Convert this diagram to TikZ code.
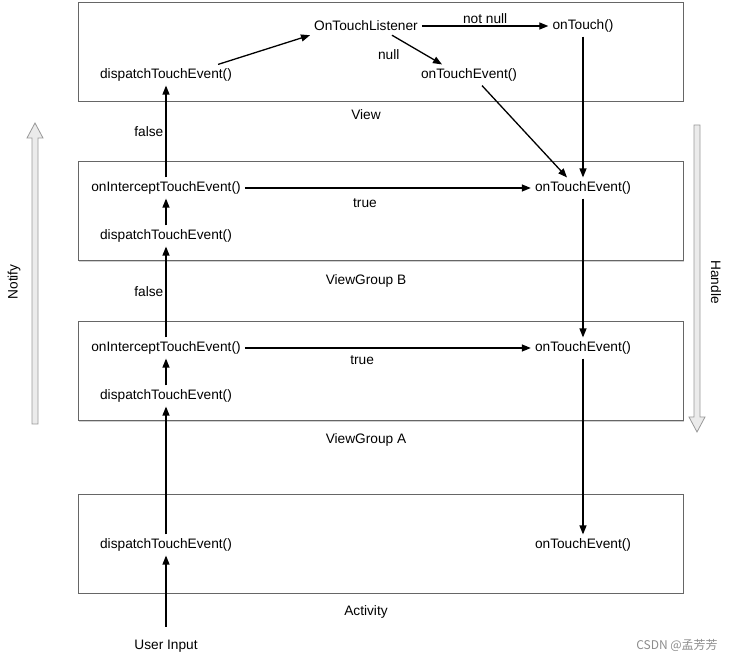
\documentclass[tikz,border=0pt]{standalone}
\usepackage{fontspec}
\setmainfont{Liberation Sans}
\newfontfamily\cjk{Noto Sans CJK SC}
\usetikzlibrary{positioning, arrows.meta, shadows}

\begin{document}
\begin{tikzpicture}[
  x=1pt, y=-1pt,
  font=\fontsize{13.7}{16}\selectfont,
  layer/.style={draw=black!60, line width=0.9pt, fill=white,
                minimum width=605pt, minimum height=99pt,
                drop shadow={shadow xshift=1.2pt, shadow yshift=-1.2pt,
                             opacity=0.3, fill=black!60}},
  fn/.style={inner sep=4pt},
  link/.style={-{Triangle[length=9pt, width=7pt]}, line width=1.3pt},
  cond/.style={inner sep=2pt},
  bigarrow/.style={draw=black!40, fill=black!8, line width=0.8pt},
]
\useasboundingbox (0,0) rectangle (732,660);

\node[layer] (view) at (380.5,51.5) {};
\node[layer] (vgb) at (380.5,211) {};
\node[layer] (vga) at (380.5,371) {};
\node[layer] (act) at (380.5,543.5) {};

\node at (366,115) (viewlbl) {View};
\node at (366,281) (vgblbl) {ViewGroup B};
\node at (366,440) (vgalbl) {ViewGroup A};
\node at (366,612) (actlbl) {Activity};

\node[fn] (vd) at (166,75) {dispatchTouchEvent()};
\node[fn] (otl) at (366,26) {OnTouchListener};
\node[fn] (ot) at (583,26) {onTouch()};
\node[fn] (vte) at (469,75) {onTouchEvent()};

\node[fn] (vgbi) at (166,188) {onInterceptTouchEvent()};
\node[fn] (vgbd) at (166,236) {dispatchTouchEvent()};
\node[fn] (vgbte) at (583,188) {onTouchEvent()};

\node[fn] (vgai) at (166,348) {onInterceptTouchEvent()};
\node[fn] (vgad) at (166,396) {dispatchTouchEvent()};
\node[fn] (vgate) at (583,348) {onTouchEvent()};

\node[fn] (actd) at (166,545) {dispatchTouchEvent()};
\node[fn] (actte) at (583,545) {onTouchEvent()};

\node[fn] (input) at (166,646) {User Input};

\draw[link, shorten <=9pt] (input) -- (actd);
\draw[link] (actd) -- (vgad);
\draw[link] (vgad) -- (vgai);
\draw[link] (vgai) -- node[midway, left, cond] {false} (vgbd);
\draw[link] (vgbd) -- (vgbi);
\draw[link] (vgbi) -- node[midway, left, cond] {false} (vd);
\draw[link] ([xshift=-18pt]vd.north east) -- (otl.south west);
\draw[link] (otl) -- node[midway, above, cond] {not null} (ot);
\draw[link] ([xshift=26pt]otl.south) -- node[pos=0.4, below left=0pt and 10pt, cond] {null} ([xshift=-27pt]vte.north);
\draw[link] ([xshift=13pt]vte.south) -- ([xshift=-16pt]vgbte.north);
\draw[link] (ot) -- (vgbte);
\draw[link] (vgbi) -- node[pos=0.42, below=8pt, cond] {true} (vgbte);
\draw[link] (vgbte) -- (vgate);
\draw[link] (vgai) -- node[pos=0.41, below=5pt, cond] {true} (vgate);
\draw[link] (vgate) -- (actte);

\draw[bigarrow] (32,424) -- (32,138) -- (27,138) -- (35,123) -- (43,138)
  -- (38,138) -- (38,424) -- cycle;
\draw[bigarrow] (694,125) -- (694,417) -- (689,417) -- (697,432) -- (705,417)
  -- (700,417) -- (700,125) -- cycle;
\node[rotate=90] (notify) at (14,282) {Notify};
\node[rotate=-90] (handle) at (716,282) {Handle};

\node[text=black!45, font=\cjk\fontsize{12}{14}\selectfont] (mark) at (677,645) {CSDN @孟芳芳};

\end{tikzpicture}
\end{document}
